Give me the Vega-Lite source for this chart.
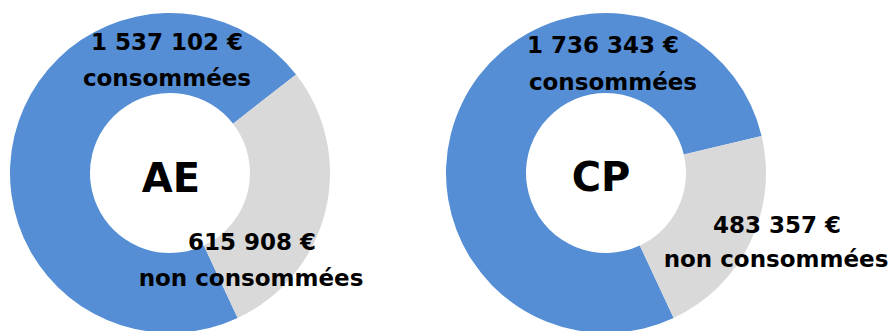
{
  "$schema": "https://vega.github.io/schema/vega-lite/v6.json",
  "padding": 0,
  "background": "white",
  "spacing": 72,
  "data": {"values": [
    {"type": "AE", "statut": "consommées", "montant": 1537102},
    {"type": "AE", "statut": "non consommées", "montant": 615908},
    {"type": "CP", "statut": "consommées", "montant": 1736343},
    {"type": "CP", "statut": "non consommées", "montant": 483357}
  ]},
  "hconcat": [
    {
      "width": 340, "height": 346,
      "transform": [{"filter": "datum.type === 'AE'"}],
      "layer": [
        {"mark": {"type": "arc", "outerRadius": 160, "innerRadius": 80},
         "encoding": {
           "theta": {"field": "montant", "type": "quantitative", "stack": true, "scale": {"range": [2.705, 8.988]}},
           "color": {"field": "statut", "type": "nominal", "scale": {"domain": ["consommées", "non consommées"], "range": ["#558ED5", "#D9D9D9"]}, "legend": null},
           "order": {"field": "statut", "sort": "ascending"}
         }},
        {"transform": [{"filter": "datum.statut === 'consommées'"}],
         "mark": {"type": "text", "fontSize": 40, "fontWeight": "bold", "baseline": "alphabetic", "dx": 1, "dy": 19},
         "encoding": {"text": {"field": "type"}}},
        {"transform": [{"filter": "datum.statut === 'consommées'"}],
         "mark": {"type": "text", "fontSize": 23, "fontWeight": "bold", "baseline": "alphabetic", "dx": -3, "dy": -123},
         "encoding": {"text": {"field": "montant", "type": "quantitative", "format": "$,.0f"}}},
        {"transform": [{"filter": "datum.statut === 'consommées'"}],
         "mark": {"type": "text", "fontSize": 23, "fontWeight": "bold", "baseline": "alphabetic", "dx": -3, "dy": -87},
         "encoding": {"text": {"field": "statut"}}},
        {"transform": [{"filter": "datum.statut === 'non consommées'"}],
         "mark": {"type": "text", "fontSize": 23, "fontWeight": "bold", "baseline": "alphabetic", "dx": 82, "dy": 77},
         "encoding": {"text": {"field": "montant", "type": "quantitative", "format": "$,.0f"}}},
        {"transform": [{"filter": "datum.statut === 'non consommées'"}],
         "mark": {"type": "text", "fontSize": 23, "fontWeight": "bold", "baseline": "alphabetic", "dx": 81, "dy": 113},
         "encoding": {"text": {"field": "statut"}}}
      ]
    },
    {
      "width": 340, "height": 346,
      "transform": [{"filter": "datum.type === 'CP'"}],
      "layer": [
        {"mark": {"type": "arc", "outerRadius": 160, "innerRadius": 80},
         "encoding": {
           "theta": {"field": "montant", "type": "quantitative", "stack": true, "scale": {"range": [2.705, 8.988]}},
           "color": {"field": "statut", "type": "nominal", "scale": {"domain": ["consommées", "non consommées"], "range": ["#558ED5", "#D9D9D9"]}, "legend": null},
           "order": {"field": "statut", "sort": "ascending"}
         }},
        {"transform": [{"filter": "datum.statut === 'consommées'"}],
         "mark": {"type": "text", "fontSize": 40, "fontWeight": "bold", "baseline": "alphabetic", "dx": -5, "dy": 18},
         "encoding": {"text": {"field": "type"}}},
        {"transform": [{"filter": "datum.statut === 'consommées'"}],
         "mark": {"type": "text", "fontSize": 23, "fontWeight": "bold", "baseline": "alphabetic", "dx": -3, "dy": -120},
         "encoding": {"text": {"field": "montant", "type": "quantitative", "format": "$,.0f"}}},
        {"transform": [{"filter": "datum.statut === 'consommées'"}],
         "mark": {"type": "text", "fontSize": 23, "fontWeight": "bold", "baseline": "alphabetic", "dx": 7, "dy": -83},
         "encoding": {"text": {"field": "statut"}}},
        {"transform": [{"filter": "datum.statut === 'non consommées'"}],
         "mark": {"type": "text", "fontSize": 23, "fontWeight": "bold", "baseline": "alphabetic", "dx": 171, "dy": 60},
         "encoding": {"text": {"field": "montant", "type": "quantitative", "format": "$,.0f"}}},
        {"transform": [{"filter": "datum.statut === 'non consommées'"}],
         "mark": {"type": "text", "fontSize": 23, "fontWeight": "bold", "baseline": "alphabetic", "dx": 170, "dy": 94},
         "encoding": {"text": {"field": "statut"}}}
      ]
    }
  ],
  "config": {
    "view": {"stroke": null},
    "text": {"font": "DejaVu Sans", "color": "#000000"},
    "locale": {"number": {"decimal": ",", "thousands": "\u00a0", "grouping": [3], "currency": ["", "\u00a0€"]}}
  }
}
